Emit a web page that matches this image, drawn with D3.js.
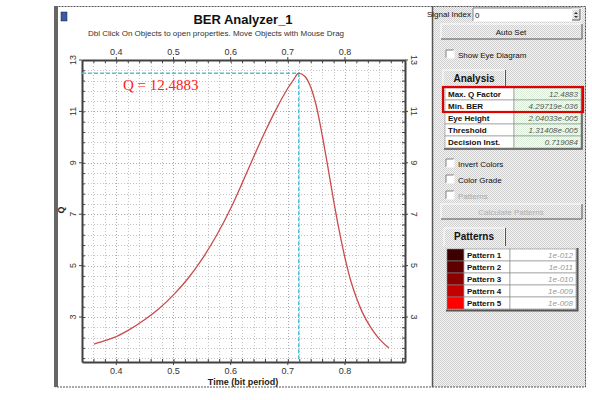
<!DOCTYPE html>
<html>
<head>
<meta charset="utf-8">
<script src="https://cdn.jsdelivr.net/npm/d3@7"></script>
<style>
  body { margin: 0; background: #fff; }
  svg { display: block; font-family: "Liberation Sans", Arial, sans-serif; }
</style>
</head>
<body>
<div id="chart"></div>
<script>
// Q factor vs. sampling time
const timeValues = [0.361, 0.38, 0.40, 0.42, 0.45, 0.475, 0.50, 0.525, 0.55, 0.575, 0.60, 0.62,
  0.64, 0.66, 0.68, 0.70, 0.71, 0.719, 0.73, 0.74, 0.75, 0.76, 0.77, 0.78, 0.79, 0.80,
  0.81, 0.82, 0.83, 0.845, 0.86, 0.877];
const qValues = [1.95, 2.08, 2.24, 2.47, 2.90, 3.33, 3.86, 4.49, 5.25, 6.16, 7.22, 8.20,
  9.22, 10.20, 11.10, 11.90, 12.23, 12.49, 12.36, 11.95, 11.2, 10.1, 8.85, 7.55, 6.35, 5.3,
  4.42, 3.75, 3.2, 2.6, 2.15, 1.79];
const xTickValues = [0.4, 0.5, 0.6, 0.7, 0.8];
const yTickValues = [3, 5, 7, 9, 11, 13];
const maxQ = 12.4883;
const decisionTime = 0.719084;

const analysisLabels = ["Max. Q Factor", "Min. BER", "Eye Height", "Threshold", "Decision Inst."];
const analysisValues = ["12.4883", "4.29719e-036", "2.04033e-005", "1.31408e-005", "0.719084"];
const patternLabels = ["Pattern 1", "Pattern 2", "Pattern 3", "Pattern 4", "Pattern 5"];
const patternValues = ["1e-012", "1e-011", "1e-010", "1e-009", "1e-008"];
const patternColors = ["#3c0000", "#5e0000", "#8c0000", "#c40000", "#ff0000"];

const W = 592, H = 400;
const svg = d3.select("#chart").append("svg").attr("width", W).attr("height", H);

const defs = svg.append("defs");
const pat = defs.append("pattern").attr("id", "dith").attr("width", 2).attr("height", 2)
  .attr("patternUnits", "userSpaceOnUse");
pat.append("rect").attr("width", 2).attr("height", 2).attr("fill", "#f4f4f4");
pat.append("rect").attr("width", 1).attr("height", 1).attr("fill", "#cfcfcf");
pat.append("rect").attr("x", 1).attr("y", 1).attr("width", 1).attr("height", 1).attr("fill", "#cfcfcf");
const patG = defs.append("pattern").attr("id", "dithg").attr("width", 2).attr("height", 2)
  .attr("patternUnits", "userSpaceOnUse");
patG.append("rect").attr("width", 2).attr("height", 2).attr("fill", "#ffffff");
patG.append("rect").attr("width", 1).attr("height", 1).attr("fill", "#d8ecd8");
patG.append("rect").attr("x", 1).attr("y", 1).attr("width", 1).attr("height", 1).attr("fill", "#d8ecd8");

// ---- window frame ----
svg.append("rect").attr("x", 433).attr("y", 6).attr("width", 153).attr("height", 381).attr("fill", "url(#dith)");
svg.append("rect").attr("x", 55.5).attr("y", 6.5).attr("width", 530).attr("height", 380.5)
  .attr("fill", "none").attr("stroke", "#555").attr("stroke-dasharray", "2,1");
svg.append("rect").attr("x", 54).attr("y", 6).attr("width", 4).attr("height", 381).attr("fill", "#666");
svg.append("line").attr("x1", 432.5).attr("x2", 432.5).attr("y1", 6).attr("y2", 387)
  .attr("stroke", "#555").attr("stroke-width", 1.5);

// ---- chart ----
const x = d3.scaleLinear().domain([0.34, 0.905]).range([82, 405]);
const y = d3.scaleLinear().domain([1.25, 13]).range([362, 60]);

const xMinor = d3.range(0, 29).map(i => 0.34 + i * 0.02);
const yMinor = d3.range(0, 30).map(i => 13 - i * 0.4).filter(v => v > 1.3);

const grid = svg.append("g");
grid.selectAll(".gx").data(xMinor).join("line")
  .attr("x1", d => Math.round(x(d)) + 0.5).attr("x2", d => Math.round(x(d)) + 0.5)
  .attr("y1", 60).attr("y2", 362)
  .attr("stroke", d => xTickValues.some(t => Math.abs(t - d) < 1e-6) ? "#a8a8a8" : "#c4c4c4")
  .attr("stroke-dasharray", "1,2");
grid.selectAll(".gy").data(yMinor).join("line")
  .attr("y1", d => Math.round(y(d)) + 0.5).attr("y2", d => Math.round(y(d)) + 0.5)
  .attr("x1", 82).attr("x2", 405)
  .attr("stroke", d => yTickValues.includes(d) ? "#a8a8a8" : "#c4c4c4")
  .attr("stroke-dasharray", "1,2");

// axes with inward ticks
const axisStyle = g => {
  g.select(".domain").attr("stroke", "#404040").attr("stroke-width", 2);
  g.selectAll(".tick line").attr("stroke", "#404040");
  g.selectAll("text").remove();
};
svg.append("g").attr("transform", "translate(0,362)")
  .call(d3.axisBottom(x).tickValues(xMinor).tickSize(-3).tickSizeOuter(0)).call(axisStyle);
svg.append("g").attr("transform", "translate(0,60)")
  .call(d3.axisTop(x).tickValues(xMinor).tickSize(-3).tickSizeOuter(0)).call(axisStyle);
svg.append("g").attr("transform", "translate(82,0)")
  .call(d3.axisLeft(y).tickValues(yMinor).tickSize(-3).tickSizeOuter(0)).call(axisStyle);
svg.append("g").attr("transform", "translate(405,0)")
  .call(d3.axisRight(y).tickValues(yMinor).tickSize(-3).tickSizeOuter(0)).call(axisStyle);
// major tick marks on the outside
svg.selectAll(".mx").data(xTickValues).join("line")
  .attr("x1", d => x(d)).attr("x2", d => x(d)).attr("y1", 362).attr("y2", 365).attr("stroke", "#404040");
svg.selectAll(".mx2").data(xTickValues).join("line")
  .attr("x1", d => x(d)).attr("x2", d => x(d)).attr("y1", 57).attr("y2", 60).attr("stroke", "#404040");
svg.selectAll(".my").data(yTickValues).join("line")
  .attr("y1", d => y(d)).attr("y2", d => y(d)).attr("x1", 79).attr("x2", 82).attr("stroke", "#404040");
svg.selectAll(".my2").data(yTickValues).join("line")
  .attr("y1", d => y(d)).attr("y2", d => y(d)).attr("x1", 405).attr("x2", 408).attr("stroke", "#404040");

// tick labels
svg.selectAll(".lxb").data(xTickValues).join("text")
  .attr("x", d => x(d)).attr("y", 374).attr("text-anchor", "middle")
  .attr("font-size", 9).attr("fill", "#333").text(d => d.toFixed(1));
svg.selectAll(".lxt").data(xTickValues).join("text")
  .attr("x", d => x(d)).attr("y", 55).attr("text-anchor", "middle")
  .attr("font-size", 9).attr("fill", "#333").text(d => d.toFixed(1));
svg.selectAll(".lyl").data(yTickValues).join("text")
  .attr("transform", d => `translate(76,${y(d)}) rotate(-90)`).attr("text-anchor", "middle")
  .attr("font-size", 9).attr("fill", "#333").text(d => d);
svg.selectAll(".lyr").data(yTickValues).join("text")
  .attr("transform", d => `translate(411,${y(d)}) rotate(90)`).attr("text-anchor", "middle")
  .attr("font-size", 9).attr("fill", "#333").text(d => d);

// titles
svg.append("rect").attr("x", 61).attr("y", 12).attr("width", 6).attr("height", 9)
  .attr("fill", "#3a5aa8").attr("stroke", "#223").attr("stroke-width", 0.5);
svg.append("text").attr("x", 243).attr("y", 24).attr("text-anchor", "middle")
  .attr("font-size", 13).attr("font-weight", "bold").attr("fill", "#111").text("BER Analyzer_1");
svg.append("text").attr("x", 216).attr("y", 36).attr("text-anchor", "middle")
  .attr("font-size", 8).attr("fill", "#333")
  .text("Dbl Click On Objects to open properties.  Move Objects with Mouse Drag");
svg.append("text").attr("x", 243).attr("y", 385).attr("text-anchor", "middle")
  .attr("font-size", 9).attr("font-weight", "bold").attr("fill", "#222").text("Time (bit period)");
svg.append("text").attr("transform", "translate(64,210) rotate(-90)").attr("text-anchor", "middle")
  .attr("font-size", 9).attr("font-weight", "bold").attr("fill", "#222").text("Q");

// marker lines
svg.append("line").attr("x1", 82).attr("x2", x(decisionTime)).attr("y1", y(maxQ)).attr("y2", y(maxQ))
  .attr("stroke", "#4ec3d6").attr("stroke-width", 1.5).attr("stroke-dasharray", "4,2");
svg.append("line").attr("x1", x(decisionTime)).attr("x2", x(decisionTime)).attr("y1", y(maxQ)).attr("y2", 362)
  .attr("stroke", "#4ec3d6").attr("stroke-width", 1.5).attr("stroke-dasharray", "4,2");

// curve
const pts = timeValues.map((t, i) => [t, qValues[i]]);
svg.append("path").datum(pts)
  .attr("fill", "none").attr("stroke", "#cc4a4a").attr("stroke-width", 1.3)
  .attr("d", d3.line().x(d => x(d[0])).y(d => y(d[1])).curve(d3.curveMonotoneX));

svg.append("text").attr("x", 123).attr("y", 90).attr("font-family", "Liberation Serif, Times New Roman, serif")
  .attr("font-size", 15).attr("fill", "#ff2020").text("Q = " + maxQ);

// ---- right panel ----
const panel = svg.append("g").attr("font-size", 8).attr("fill", "#111");

const sunken = (g, x0, y0, w, h, fill) => {
  g.append("rect").attr("x", x0).attr("y", y0).attr("width", w).attr("height", h).attr("fill", fill);
  g.append("path").attr("d", `M${x0},${y0 + h}V${y0}H${x0 + w}`).attr("fill", "none").attr("stroke", "#808080");
  g.append("path").attr("d", `M${x0},${y0 + h}H${x0 + w}V${y0}`).attr("fill", "none").attr("stroke", "#fff");
};
const raised = (g, x0, y0, w, h) => {
  g.append("rect").attr("x", x0).attr("y", y0).attr("width", w).attr("height", h).attr("fill", "url(#dith)");
  g.append("path").attr("d", `M${x0},${y0 + h}V${y0}H${x0 + w}`).attr("fill", "none").attr("stroke", "#fff");
  g.append("path").attr("d", `M${x0},${y0 + h}H${x0 + w}V${y0}`).attr("fill", "none").attr("stroke", "#555");
};
const checkbox = (g, x0, y0, label, disabled) => {
  sunken(g, x0, y0, 8, 8, "#fff");
  g.append("text").attr("x", x0 + 12).attr("y", y0 + 7.5).attr("fill", disabled ? "#aaa" : "#111").text(label);
};

panel.append("text").attr("x", 471).attr("y", 17).attr("text-anchor", "end").text("Signal Index");
sunken(panel, 473, 8, 108, 13, "#fff");
panel.append("text").attr("x", 475).attr("y", 17.5).text("0");
raised(panel, 572, 9, 8, 11);
panel.append("path").attr("d", "M574,14l2,-2l2,2z M574,16l2,2l2,-2z").attr("fill", "#333");

raised(panel, 441, 24, 141, 15);
panel.append("text").attr("x", 511).attr("y", 34.5).attr("text-anchor", "middle").text("Auto Set");

checkbox(panel, 446, 50, "Show Eye Diagram");

// Analysis tab
panel.append("path").attr("d", "M443,86V70H505V86").attr("fill", "none").attr("stroke", "#fff");
panel.append("line").attr("x1", 505.5).attr("x2", 505.5).attr("y1", 70).attr("y2", 86).attr("stroke", "#555");
panel.append("text").attr("x", 474).attr("y", 82).attr("text-anchor", "middle")
  .attr("font-size", 10).attr("font-weight", "bold").text("Analysis");

const rowH = 12, tX0 = 445, tX1 = 514, tX2 = 581;
analysisLabels.forEach((lab, i) => {
  const ry = 88 + i * rowH;
  panel.append("rect").attr("x", tX0).attr("y", ry).attr("width", tX1 - tX0).attr("height", rowH)
    .attr("fill", "#fff").attr("stroke", "#888").attr("stroke-width", 0.6);
  panel.append("rect").attr("x", tX1).attr("y", ry).attr("width", tX2 - tX1).attr("height", rowH)
    .attr("fill", "url(#dithg)").attr("stroke", "#888").attr("stroke-width", 0.6);
  panel.append("text").attr("x", tX0 + 3).attr("y", ry + 9).attr("font-weight", "bold").text(lab);
  panel.append("text").attr("x", tX2 - 3).attr("y", ry + 9).attr("text-anchor", "end")
    .attr("fill", "#555").attr("font-style", "italic").text(analysisValues[i]);
});
panel.append("path").attr("d", `M${tX0 - 1},${88 + 5 * rowH + 1}H${tX2 + 1}V87`)
  .attr("fill", "none").attr("stroke", "#555").attr("stroke-width", 1.5);
panel.append("rect").attr("x", 443).attr("y", 87).attr("width", 140).attr("height", 25)
  .attr("fill", "none").attr("stroke", "#e00000").attr("stroke-width", 2.2);

checkbox(panel, 446, 159, "Invert Colors");
checkbox(panel, 446, 175, "Color Grade");
checkbox(panel, 446, 191, "Patterns", true);

raised(panel, 441, 204, 141, 15);
panel.append("text").attr("x", 511).attr("y", 214.5).attr("text-anchor", "middle")
  .attr("fill", "#b0b0b0").text("Calculate Patterns");

// Patterns tab
panel.append("path").attr("d", "M444,246V228H505V246").attr("fill", "none").attr("stroke", "#fff");
panel.append("line").attr("x1", 505.5).attr("x2", 505.5).attr("y1", 228).attr("y2", 246).attr("stroke", "#555");
panel.append("text").attr("x", 474).attr("y", 240).attr("text-anchor", "middle")
  .attr("font-size", 10).attr("font-weight", "bold").text("Patterns");

const pX0 = 447, pX1 = 464, pX2 = 510, pX3 = 576;
patternLabels.forEach((lab, i) => {
  const ry = 249 + i * rowH;
  panel.append("rect").attr("x", pX0).attr("y", ry).attr("width", pX1 - pX0).attr("height", rowH)
    .attr("fill", patternColors[i]).attr("stroke", "#888").attr("stroke-width", 0.6);
  panel.append("rect").attr("x", pX1).attr("y", ry).attr("width", pX2 - pX1).attr("height", rowH)
    .attr("fill", "#fff").attr("stroke", "#888").attr("stroke-width", 0.6);
  panel.append("rect").attr("x", pX2).attr("y", ry).attr("width", pX3 - pX2).attr("height", rowH)
    .attr("fill", "#fff").attr("stroke", "#888").attr("stroke-width", 0.6);
  panel.append("text").attr("x", pX1 + 3).attr("y", ry + 9).attr("font-weight", "bold").text(lab);
  panel.append("text").attr("x", pX3 - 3).attr("y", ry + 9).attr("text-anchor", "end")
    .attr("fill", "#999").attr("font-style", "italic").text(patternValues[i]);
});
panel.append("path").attr("d", `M${pX0 - 1},${249 + 5 * rowH + 1.5}H${pX3 + 1.5}V248`)
  .attr("fill", "none").attr("stroke", "#555").attr("stroke-width", 2);
</script>
</body>
</html>
